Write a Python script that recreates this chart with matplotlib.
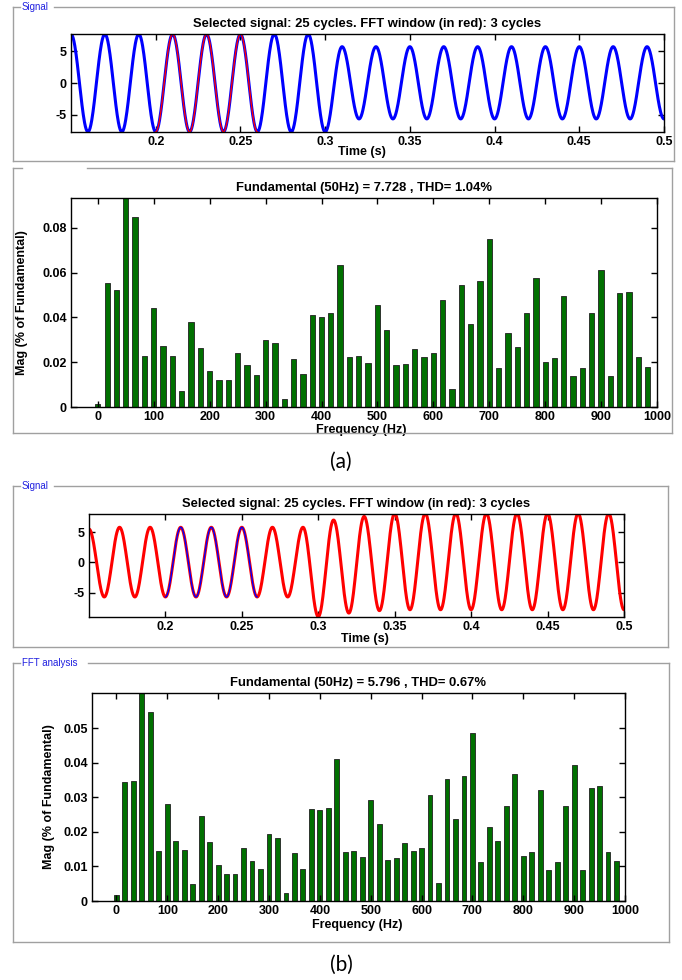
import numpy as np
import matplotlib
matplotlib.use("Agg")
import matplotlib.pyplot as plt
from matplotlib.lines import Line2D

plt.rcParams['font.family'] = ['Liberation Sans', 'DejaVu Sans']
plt.rcParams['font.weight'] = 'bold'
plt.rcParams['axes.titleweight'] = 'bold'
plt.rcParams['axes.labelweight'] = 'bold'
plt.rcParams['axes.unicode_minus'] = False
plt.rcParams['font.size'] = 8.5

W, H = 682, 980

# FFT bins (3-cycle window -> 50/3 Hz resolution), 60 bins up to 983 Hz
freq_a = np.arange(60) * 50.0 / 3.0
mag_a = [0.0012, 0.0556, 0.0525, 0.0934, 0.0848, 0.0230, 0.0443, 0.0274, 0.0230, 0.0073,
         0.0382, 0.0265, 0.0159, 0.0119, 0.0119, 0.0241, 0.0186, 0.0141, 0.0300, 0.0285,
         0.0036, 0.0213, 0.0146, 0.0409, 0.0404, 0.0418, 0.0635, 0.0223, 0.0226, 0.0195,
         0.0454, 0.0343, 0.0187, 0.0194, 0.0260, 0.0225, 0.0242, 0.0477, 0.0079, 0.0544,
         0.0369, 0.0561, 0.0752, 0.0174, 0.0332, 0.0269, 0.0422, 0.0576, 0.0202, 0.0217,
         0.0497, 0.0138, 0.0174, 0.0422, 0.0614, 0.0138, 0.0509, 0.0514, 0.0222, 0.0178]
mag_b = [0.0017, 0.0344, 0.0346, 0.0602, 0.0546, 0.0145, 0.0282, 0.0173, 0.0148, 0.0048,
         0.0246, 0.0171, 0.0105, 0.0077, 0.0077, 0.0154, 0.0117, 0.0094, 0.0194, 0.0182,
         0.0023, 0.0138, 0.0094, 0.0265, 0.0262, 0.0268, 0.0410, 0.0143, 0.0145, 0.0126,
         0.0293, 0.0223, 0.0120, 0.0125, 0.0169, 0.0145, 0.0154, 0.0307, 0.0051, 0.0353,
         0.0236, 0.0361, 0.0487, 0.0112, 0.0213, 0.0173, 0.0274, 0.0369, 0.0131, 0.0141,
         0.0321, 0.0089, 0.0112, 0.0274, 0.0395, 0.0089, 0.0328, 0.0332, 0.0143, 0.0115]
freq_b = freq_a

# signal extremes (peak / trough every half cycle, 0.15 .. 0.50 s)
t_ext = np.round(np.arange(0.15, 0.5001, 0.01), 3)
ext_a = [7.73, -7.73, 7.73, -7.73, 7.73, -7.73, 7.73, -7.73, 7.73, -7.73, 7.73, -7.73,
         7.73, -7.73, 7.73, -7.73, 5.74, -5.68, 5.74, -5.68, 5.74, -5.68, 5.74, -5.68,
         5.74, -5.68, 5.74, -5.68, 5.74, -5.68, 5.74, -5.68, 5.74, -5.68, 5.74, -5.68]
ext_b = [5.50, -5.73, 5.80, -5.73, 5.80, -5.73, 5.80, -5.73, 5.80, -5.73, 5.80, -5.73,
         5.80, -5.73, 5.80, -9.00, 7.00, -8.40, 7.60, -8.00, 8.10, -7.85, 8.10, -7.85,
         8.10, -7.85, 8.10, -7.85, 8.10, -7.85, 8.10, -7.85, 8.10, -7.85, 8.10, -7.85]


def wave(t_e, e, n=40):
    # half-cosine segments joining consecutive extremes
    ts, ys = [], []
    for i in range(len(e) - 1):
        s = np.linspace(0, 1, n, endpoint=False)
        ts.append(t_e[i] + s * (t_e[i + 1] - t_e[i]))
        ys.append((e[i] + e[i + 1]) / 2 + (e[i] - e[i + 1]) / 2 * np.cos(np.pi * s))
    ts.append([t_e[-1]])
    ys.append([e[-1]])
    return np.concatenate(ts), np.concatenate(ys)


fig = plt.figure(figsize=(W / 100, H / 100), dpi=100)


def ax_at(x0, y0, x1, y1):
    return fig.add_axes([x0 / W, 1 - y1 / H, (x1 - x0) / W, (y1 - y0) / H])


def group_box(x0, y0, x1, y1, label=None, gap=None):
    c = '#a0a0a0'
    X = lambda x: x / W
    Y = lambda y: 1 - y / H
    segs = [([x0, x0], [y0, y1]), ([x0, x1], [y1, y1]), ([x1, x1], [y1, y0])]
    if gap:
        segs += [([x0, gap[0]], [y0, y0]), ([gap[1], x1], [y0, y0])]
    else:
        segs.append(([x0, x1], [y0, y0]))
    for xs, ys in segs:
        fig.add_artist(Line2D([X(v) for v in xs], [Y(v) for v in ys], color=c, lw=1))
    if label:
        fig.text(X(gap[0] + 2), Y(y0), label, color='#2020e0', fontsize=7,
                 fontweight='normal', va='center', ha='left')


def style(ax):
    ax.tick_params(direction='in', top=True, right=True, length=4, width=1, pad=3,
                   labelsize=9)
    for s in ax.spines.values():
        s.set_linewidth(1)


def signal_panel(ax, t, y, ov_color, main_color, ylim):
    ax.plot(t, y, color=main_color, lw=2.2)
    m = (t >= 0.2) & (t <= 0.26)
    ax.plot(t[m], y[m], color=ov_color, lw=1.0)
    ax.set_xlim(0.15, 0.5)
    ax.set_ylim(*ylim)
    ax.set_xticks([0.2, 0.25, 0.3, 0.35, 0.4, 0.45, 0.5])
    ax.set_xticklabels(['0.2', '0.25', '0.3', '0.35', '0.4', '0.45', '0.5'])
    ax.set_yticks([-5, 0, 5])
    ax.set_title('Selected signal: 25 cycles. FFT window (in red): 3 cycles', pad=5, fontsize=9.4)
    ax.set_xlabel('Time (s)', fontsize=9)
    ax.xaxis.label.set_va('center')
    style(ax)


def fft_panel(ax, f, mag, ymax, yticks, title):
    ax.bar(f, mag, width=9.5, color='#007000', edgecolor='#202020', lw=0.6)
    ax.set_xlim(-48, 1000)
    ax.set_ylim(0, ymax)
    ax.set_xticks(np.arange(0, 1001, 100))
    ax.set_yticks(yticks)
    ax.set_yticklabels(['0'] + ['%g' % v for v in yticks[1:]])
    ax.set_title(title, pad=5, fontsize=9.4)
    ax.set_xlabel('Frequency (Hz)', fontsize=9)
    ax.xaxis.label.set_va('center')
    ax.set_ylabel('Mag (% of Fundamental)', fontsize=9)
    ax.yaxis.label.set_va('center')
    style(ax)


# ---- (a)
group_box(13, 7, 674, 161, 'Signal', gap=(20, 54))
ax1 = ax_at(71, 34, 664, 132)
ta, ya = wave(t_ext, ext_a)
signal_panel(ax1, ta, ya, 'red', 'blue', (-7.75, 7.75))
ax1.xaxis.set_label_coords(0.49, -0.2)

group_box(13, 168, 672, 433, None, gap=(22, 87))
ax2 = ax_at(71, 198, 657, 407)
fft_panel(ax2, freq_a, mag_a, 0.0934, [0, 0.02, 0.04, 0.06, 0.08],
          'Fundamental (50Hz) = 7.728 , THD= 1.04%')
ax2.xaxis.set_label_coords(0.495, -0.112)
ax2.yaxis.set_label_coords(-0.084, 0.5)

fig.text(341 / W, 1 - 462 / H, '(a)', fontsize=15, fontweight='normal',
         family=['Lato', 'DejaVu Sans'], ha='center', va='center')

# ---- (b)
group_box(13, 486, 668, 647, 'Signal', gap=(20, 54))
ax3 = ax_at(89, 514, 624, 617)
tb, yb = wave(t_ext, ext_b)
signal_panel(ax3, tb, yb, 'blue', 'red', (-9.05, 8.0))
ax3.xaxis.set_label_coords(0.515, -0.21)

group_box(13, 663, 669, 942, 'FFT analysis', gap=(20, 88))
ax4 = ax_at(92, 693, 625, 901)
fft_panel(ax4, freq_b, mag_b, 0.0602, [0, 0.01, 0.02, 0.03, 0.04, 0.05],
          'Fundamental (50Hz) = 5.796 , THD= 0.67%')
ax4.xaxis.set_label_coords(0.497, -0.115)
ax4.yaxis.set_label_coords(-0.08, 0.5)

fig.text(341 / W, 1 - 965 / H, '(b)', fontsize=15, fontweight='normal',
         family=['Lato', 'DejaVu Sans'], ha='center', va='center')

fig.savefig('out.png', dpi=100)
